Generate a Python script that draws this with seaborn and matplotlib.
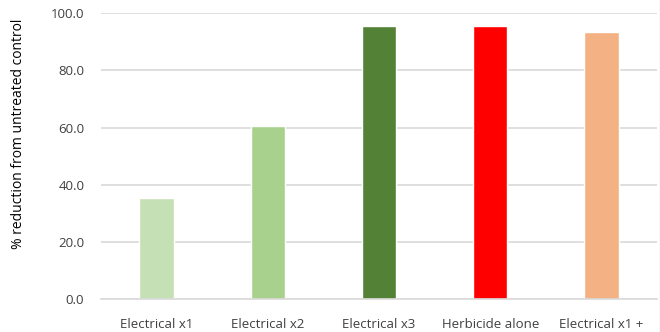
import matplotlib
matplotlib.use("Agg")
import matplotlib.pyplot as plt
import seaborn as sns
import pandas as pd
from matplotlib.lines import Line2D

categories = ["Electrical x1", "Electrical x2", "Electrical x3", "Herbicide alone", "Electrical x1 +"]
values = [35.4, 60.5, 95.7, 95.7, 93.6]
colors = ["#C5E0B4", "#A9D18E", "#538135", "#FF0000", "#F4B183"]
yticks = [0, 20, 40, 60, 80, 100]
ylabel = "% reduction from untreated control"

sns.set_theme(style="white")
plt.rcParams['font.family'] = ['Open Sans', 'DejaVu Sans']

df = pd.DataFrame({"cat": categories, "val": values})

fig = plt.figure(figsize=(6.6, 3.32), dpi=100)
ax = fig.add_axes([101/660, 1-299/332, (657-101)/660, (299-13.3)/332])
sns.barplot(data=df, x="cat", y="val", hue="cat", palette=colors, width=0.31,
            legend=False, ax=ax, saturation=1)

ax.set_ylim(0, 100)
ax.set_xlim(-0.5, 4.5)
ax.set_yticks(yticks)
ax.set_yticklabels([f"{v:.1f}" for v in yticks], fontsize=9.5, color="#404040")
ax.tick_params(axis='x', labelsize=9.5, colors="#404040", length=0, pad=14)
ax.tick_params(axis='y', length=0, pad=12)
ax.set_xlabel("")
ax.set_ylabel(ylabel, fontsize=10, color="#000000")
ax.yaxis.set_label_coords(-0.135, 0.577)
ax.yaxis.grid(True, color="#D9D9D9", linewidth=1.2)
ax.set_axisbelow(True)
for s in ["top", "right", "left"]:
    ax.spines[s].set_visible(False)
ax.spines["bottom"].set_color("#D9D9D9")
ax.spines["bottom"].set_linewidth(1.2)

fig.add_artist(Line2D([659.5/660, 659.5/660], [0, 1], color="#D9D9D9", linewidth=1, transform=fig.transFigure))

fig.savefig("out.png", dpi=100)
